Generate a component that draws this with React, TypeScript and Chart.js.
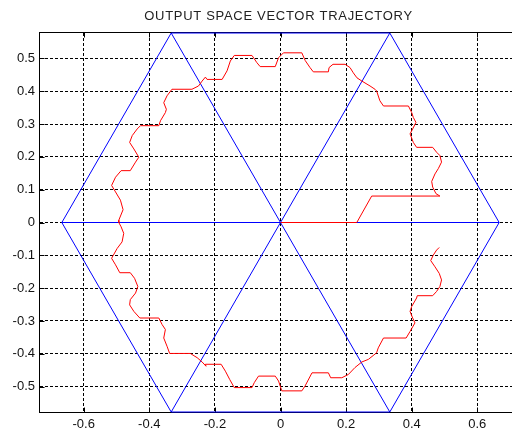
import { useEffect, useRef } from "react";
import { Chart, registerables } from "chart.js";

Chart.register(...registerables);

const TITLE = "OUTPUT SPACE VECTOR TRAJECTORY";
const xTicks = [-0.6, -0.4, -0.2, 0, 0.2, 0.4, 0.6];
const yTicks = [-0.5, -0.4, -0.3, -0.2, -0.1, 0, 0.1, 0.2, 0.3, 0.4, 0.5];
const X_MIN = -0.7333;
const X_MAX = 0.7333;
const Y_MIN = -0.5774;
const Y_MAX = 0.5774;

// hexagon boundary
const hexX = [0.6667, 0.3333, -0.3333, -0.6667, -0.3333, 0.3333, 0.6667];
const hexY = [0, 0.5774, 0.5774, 0, -0.5774, -0.5774, 0];
// spokes through origin
const spokeAX = [-0.6667, 0.6667];
const spokeAY = [0, 0];
const spokeBX = [-0.3333, 0.3333];
const spokeBY = [-0.5774, 0.5774];
const spokeCX = [-0.3333, 0.3333];
const spokeCY = [0.5774, -0.5774];

// output vector trajectory
const trajX = [
  0, 0.2326, 0.278, 0.486, 0.474, 0.464, 0.461, 0.471, 0.481, 0.491, 0.486, 0.476, 0.464, 0.415, 0.405,
  0.395, 0.403, 0.413, 0.405, 0.4, 0.39, 0.314, 0.303, 0.293, 0.288, 0.273, 0.248, 0.233, 0.222, 0.212,
  0.197, 0.16, 0.148, 0.146, 0.1, 0.09, 0.075, 0.065, 0.009, -0.001, -0.006, -0.016, -0.062, -0.072,
  -0.087, -0.141, -0.153, -0.163, -0.178, -0.224, -0.229, -0.239, -0.25, -0.27, -0.331, -0.346, -0.356,
  -0.348, -0.351, -0.366, -0.371, -0.427, -0.437, -0.452, -0.46, -0.447, -0.432, -0.442, -0.458, -0.486,
  -0.503, -0.515, -0.503, -0.488, -0.48, -0.493, -0.493, -0.486, -0.478, -0.483, -0.498, -0.515, -0.503,
  -0.49, -0.458, -0.445, -0.435, -0.442, -0.458, -0.46, -0.447, -0.429, -0.371, -0.361, -0.351, -0.356,
  -0.346, -0.338, -0.275, -0.254, -0.239, -0.227, -0.229, -0.181, -0.168, -0.155, -0.141, -0.087, -0.08,
  -0.067, -0.016, -0.006, 0.004, 0.065, 0.075, 0.096, 0.146, 0.153, 0.187, 0.207, 0.227, 0.248, 0.268,
  0.293, 0.298, 0.314, 0.383, 0.395, 0.41, 0.403, 0.395, 0.4, 0.415, 0.417, 0.464, 0.476, 0.486, 0.491,
  0.484, 0.471, 0.458, 0.466, 0.476, 0.484,
];
const trajY = [
  0, 0, 0.0806, 0.0806, 0.0879, 0.1079, 0.125, 0.148, 0.164, 0.184, 0.204, 0.214, 0.229, 0.229, 0.244,
  0.27, 0.285, 0.305, 0.32, 0.335, 0.355, 0.355, 0.371, 0.401, 0.406, 0.416, 0.431, 0.441, 0.456, 0.472,
  0.482, 0.482, 0.472, 0.459, 0.459, 0.472, 0.494, 0.517, 0.517, 0.507, 0.502, 0.475, 0.475, 0.487,
  0.509, 0.509, 0.492, 0.462, 0.436, 0.436, 0.443, 0.431, 0.416, 0.406, 0.406, 0.386, 0.365,
  0.345, 0.335, 0.31, 0.295, 0.295, 0.285, 0.265, 0.244, 0.224, 0.199, 0.184, 0.158, 0.158,
  0.138, 0.113, 0.093, 0.068, 0.039, 0.007, 0, -0.013, -0.033, -0.059, -0.079, -0.109, -0.129,
  -0.153, -0.153, -0.17, -0.195, -0.215, -0.235, -0.251, -0.271, -0.291, -0.291, -0.311, -0.326, -0.352,
  -0.377, -0.399, -0.399, -0.412, -0.425, -0.438, -0.432, -0.432, -0.453, -0.478, -0.503, -0.503, -0.488,
  -0.468, -0.468, -0.483, -0.513, -0.513, -0.498, -0.458, -0.458, -0.473, -0.473, -0.463, -0.442, -0.425, -0.417,
  -0.397, -0.382, -0.352, -0.352, -0.332, -0.306, -0.291, -0.271, -0.256, -0.23, -0.223, -0.223, -0.21, -0.195, -0.175,
  -0.155, -0.135, -0.116, -0.099, -0.084, -0.076,
];

const toPts = (xs: number[], ys: number[]) => xs.map((x, i) => ({ x, y: ys[i] }));

const FONT = '"Liberation Sans", Arial, sans-serif';

export default function App() {
  const ref = useRef<HTMLCanvasElement | null>(null);

  useEffect(() => {
    if (!ref.current) return;
    const framePlugin = {
      id: "frame",
      beforeDatasetsDraw(chart: any) {
        const { ctx, chartArea: a, scales } = chart;
        const L = Math.round(a.left) - 0.5;
        const T = Math.round(a.top) - 0.5;
        const R = Math.round(a.right) + 0.5;
        const B = Math.round(a.bottom) + 0.5;
        ctx.save();
        ctx.strokeStyle = "#000";
        ctx.lineWidth = 1;
        ctx.strokeRect(L, T, R - L, B - T);
        const tl = 5;
        ctx.beginPath();
        xTicks.forEach((v) => {
          const px = Math.round(scales.x.getPixelForValue(v)) + 0.5;
          ctx.moveTo(px, B);
          ctx.lineTo(px, B - tl);
          ctx.moveTo(px, T);
          ctx.lineTo(px, T + tl);
        });
        yTicks.forEach((v) => {
          const py = Math.round(scales.y.getPixelForValue(v)) + 0.5;
          ctx.moveTo(L, py);
          ctx.lineTo(L + tl, py);
          ctx.moveTo(R, py);
          ctx.lineTo(R - tl, py);
        });
        ctx.stroke();
        ctx.restore();
      },
      afterDraw(chart: any) {
        const { ctx, chartArea: a } = chart;
        ctx.save();
        ctx.font = "13px " + FONT;
        (ctx as any).letterSpacing = "0.7px";
        ctx.fillStyle = "#222";
        ctx.textAlign = "center";
        ctx.textBaseline = "middle";
        ctx.fillText(TITLE, (a.left + a.right) / 2 - 2, 16.5);
        ctx.restore();
      },
    };

    const lineDs = (pts: any[], color: string, order: number) => ({
      data: pts,
      borderColor: color,
      backgroundColor: color,
      borderWidth: 1,
      pointRadius: 0,
      showLine: true,
      fill: false,
      tension: 0,
      clip: false as any,
      order,
    });

    const chart = new Chart(ref.current, {
      type: "scatter",
      data: {
        datasets: [
          lineDs(toPts(trajX, trajY), "#ff0000", 0),
          lineDs(toPts(hexX, hexY), "#0000ff", 1),
          lineDs(toPts(spokeAX, spokeAY), "#0000ff", 1),
          lineDs(toPts(spokeBX, spokeBY), "#0000ff", 1),
          lineDs(toPts(spokeCX, spokeCY), "#0000ff", 1),
        ] as any,
      },
      options: {
        animation: false,
        responsive: false,
        maintainAspectRatio: false,
        layout: { padding: { top: 33, left: 0, right: 0, bottom: 0 } },
        plugins: {
          legend: { display: false },
          title: { display: false },
          tooltip: { enabled: false },
        },
        scales: {
          x: {
            type: "linear",
            min: X_MIN,
            max: X_MAX,
            afterBuildTicks: (s: any) => {
              s.ticks = xTicks.map((v) => ({ value: v }));
            },
            afterFit: (s: any) => {
              s.height = 18;
            },
            grid: { color: "#000", lineWidth: 1, drawTicks: false },
            border: { display: false, dash: [3, 2] },
            ticks: {
              color: "#111",
              padding: 5,
              maxRotation: 0,
              font: { family: FONT, size: 13 },
              callback: (v: any) => String(Math.round(Number(v) * 10) / 10),
            },
          },
          y: {
            type: "linear",
            min: Y_MIN,
            max: Y_MAX,
            afterBuildTicks: (s: any) => {
              s.ticks = yTicks.map((v) => ({ value: v }));
            },
            afterFit: (s: any) => {
              s.width = 40;
            },
            grid: { color: "#000", lineWidth: 1, drawTicks: false },
            border: { display: false, dash: [3, 2] },
            ticks: {
              color: "#111",
              padding: 5,
              font: { family: FONT, size: 13 },
              callback: (v: any) => String(Math.round(Number(v) * 10) / 10),
            },
          },
        },
      } as any,
      plugins: [framePlugin],
    });
    return () => chart.destroy();
  }, []);

  return (
    <div
      style={{
        position: "fixed",
        left: 0,
        top: 0,
        width: 512,
        height: 430,
        overflow: "hidden",
        background: "#fff",
      }}
    >
      <canvas ref={ref} width={521} height={430} style={{ display: "block", width: 521, height: 430 }} />
    </div>
  );
}
